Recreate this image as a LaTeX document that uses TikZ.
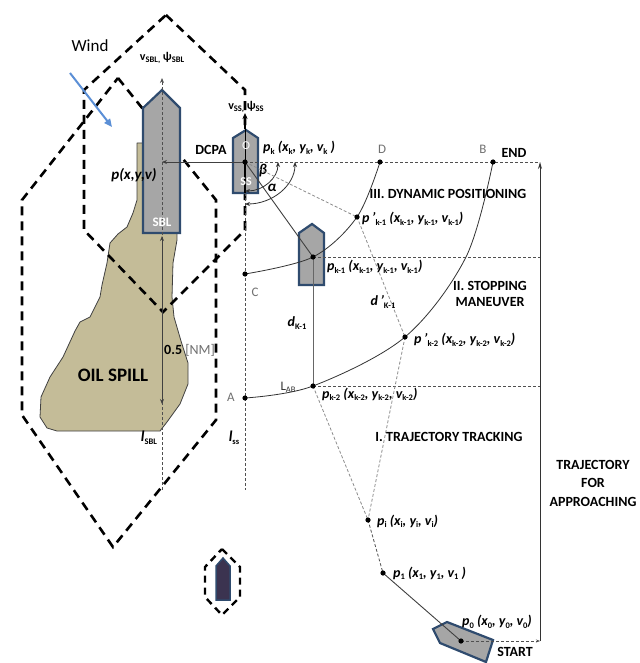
\documentclass[tikz,border=0pt]{standalone}
\usepackage{fontspec}
\setmainfont{Carlito}
\usetikzlibrary{arrows.meta,calc}

\definecolor{hull}{HTML}{A6A6A6}
\definecolor{hullline}{HTML}{2F4B6E}
\definecolor{spill}{HTML}{C4BC98}
\definecolor{windblue}{HTML}{5B8FD6}
\definecolor{darkhull}{HTML}{3B3350}
\definecolor{guide}{HTML}{505050}
\definecolor{softtext}{HTML}{707070}

% small upright subscript used in the point labels
\newcommand{\lsub}[1]{\raisebox{-0.35ex}{\fontsize{8.5}{9}\selectfont\upshape #1}}

\tikzset{
  zone/.style={draw=black, line width=2.6pt, dash pattern=on 9pt off 6pt, line join=miter},
  smallzone/.style={draw=black, line width=2.4pt, dash pattern=on 7pt off 5pt},
  guideline/.style={draw=guide, line width=0.8pt, dash pattern=on 3pt off 2pt},
  lightguide/.style={draw=black!45, line width=0.8pt, dash pattern=on 3pt off 2pt},
  track/.style={draw=black!75, line width=0.9pt},
  hullshape/.style={fill=hull, draw=hullline, line width=2.2pt, line join=miter},
  ptdot/.style={fill=black},
  ptlabel/.style={font=\bfseries\itshape\fontsize{14}{15}\selectfont, inner sep=0pt, anchor=west},
  phase/.style={font=\bfseries\fontsize{14}{16.5}\selectfont, inner sep=0pt, align=center},
  letter/.style={font=\fontsize{13}{14}\selectfont, text=softtext, inner sep=0pt},
  >={Stealth[length=5pt,width=4pt]}
}

\begin{document}
\begin{tikzpicture}[x=1pt,y=-1pt]
\useasboundingbox (0,0) rectangle (639,663);
\fill[white] (0,0) rectangle (639,663);

% ---- key points of the approach ----
\coordinate (pk)   at (245,162);
\coordinate (D)    at (380,162);
\coordinate (B)    at (493,162);
\coordinate (endT) at (540,162);
\coordinate (pk1)  at (313,257);
\coordinate (pk1p) at (357,217);
\coordinate (rk1)  at (540,257);
\coordinate (pk2)  at (313,386);
\coordinate (pk2p) at (405,337);
\coordinate (rk2)  at (540,386);
\coordinate (C)    at (245,274);
\coordinate (A)    at (245,398);
\coordinate (ssend) at (245,490);
\coordinate (pi)   at (368,520);
\coordinate (p1)   at (383,573);
\coordinate (p0)   at (461,641);
\coordinate (endB) at (540,641);
\coordinate (sbltop) at (162,78);
\coordinate (sblmid) at (162,162);
\coordinate (sblbot) at (162,490);
\coordinate (sblstern) at (162,236);
\coordinate (halfnm) at (162,404);
\coordinate (sshead) at (245,113);
\coordinate (ssbow) at (245,129);
\coordinate (ssstern) at (245,193);
\coordinate (windA) at (70,73);
\coordinate (windB) at (112,127);

% ---- oil spill ----
\draw[fill=spill, draw=black!75, line width=0.8pt, line join=round]
  (137,143) -- (137,200) -- (133,213) -- (127,227) -- (118,234) -- (110,243)
  -- (107,263) -- (102,285) -- (100,297) -- (90,317) -- (80,322) -- (75,331)
  -- (63,357) -- (50,377) -- (41,397) -- (40,417) -- (47,428) -- (57,431)
  -- (160,431) -- (167,422) -- (180,404) -- (188,384) -- (188,363) -- (181,341)
  -- (174,317) -- (172,297) -- (173,263) -- (177,240) -- (176,143) -- cycle;

% ---- safety zones ----
\draw[zone] (166,15) -- (245,90) -- (245,230) -- (163,312) -- (84,230) -- (84,90) -- cycle;
\draw[zone] (118,78) -- (216,200) -- (216,420) -- (113,547) -- (22,415) -- (22,200) -- cycle;
\draw[smallzone] (222,549) -- (240,567) -- (240,597) -- (222,615) -- (205,597) -- (205,567) -- cycle;

% ---- wind ----
\draw[windblue, line width=2pt, -{Triangle[length=8pt,width=7pt]}] (windA) -- (windB);
\node[font=\fontsize{17}{19}\selectfont, inner sep=0pt] (wind) at (90,46) {Wind};

% ---- ships ----
\draw[hullshape] (143,233) -- (143,108) -- (162,90) -- (180,108) -- (180,233) -- cycle;
\draw[hullshape] (233,193) -- (233,138) -- (246,130) -- (258,138) -- (258,193) -- cycle;
\draw[hullshape] (299,285) -- (299,233) -- (312,224) -- (324,233) -- (324,285) -- cycle;
\draw[fill=darkhull, draw=hullline, line width=1.5pt] (216,600) -- (216,566) -- (223,558) -- (230,566) -- (230,600) -- cycle;
\draw[hullshape] (433,629) -- (447,622) -- (493,640) -- (486,662) -- (440,643) -- cycle;

% ---- headings ----
\draw[guideline, ->] (sblbot) -- (sbltop);
\draw[black, line width=0.8pt] (ssbow) -- (pk);
\draw[black, line width=1.8pt] (pk) -- (ssstern);
\draw[black, line width=1.8pt, dash pattern=on 5pt off 3pt, -{Stealth[length=6pt,width=5pt]}] (ssbow) -- (sshead);

\node[text=white, font=\bfseries\fontsize{13}{14}\selectfont, inner sep=0pt] (sbltxt) at (162,222) {SBL};
\node[text=white, font=\fontsize{12}{13}\selectfont, inner sep=0pt] (otxt) at (246,146) {O};
\node[text=white, font=\bfseries\fontsize{12}{13}\selectfont, inner sep=0pt] (sstxt) at (246,182) {SS};

\node[font=\bfseries\fontsize{12}{13}\selectfont, inner sep=0pt] (sblhead) at (162,58) {v\lsub{SBL,} ψ\lsub{SBL}};
\node[font=\bfseries\fontsize{12}{13}\selectfont, inner sep=0pt] (sshead lbl) at (246,107) {v\lsub{SS,} ψ\lsub{SS}};

% ---- distances at the oil spill ----
\draw[track, <->] (sblstern) -- (halfnm);
\node[inner sep=0pt, anchor=west, font=\fontsize{14}{15}\selectfont] (nm) at (164,350) {\textbf{0.5} \textcolor{softtext}{[NM]}};
\node[font=\bfseries\fontsize{19}{21}\selectfont, inner sep=0pt] (oil) at (113,375) {OIL SPILL};
\node[font=\bfseries\itshape\fontsize{15}{16}\selectfont, inner sep=0pt] (pxyv) at (134,175) {p(x,y,v)};
\node[font=\bfseries\itshape\fontsize{15}{16}\selectfont, inner sep=0pt] (lsbl) at (149,438) {l\lsub{SBL}};
\node[font=\bfseries\itshape\fontsize{15}{16}\selectfont, inner sep=0pt] (lss) at (234,438) {l\lsub{ss}};

% ---- closest point of approach ----
\draw[track, ->] (pk) -- (sblmid);
\node[font=\bfseries\fontsize{14}{15}\selectfont, inner sep=0pt] (dcpa) at (211,150) {DCPA};

% ---- guide lines ----
\draw[guideline] (pk) -- (endT);
\draw[guideline] (pk1) -- (rk1);
\draw[guideline] (pk2) -- (rk2);
\draw[guideline] (ssstern) -- (ssend);

% ---- stopping arcs ----
\draw[black!80, line width=0.8pt] plot[smooth, tension=0.55] coordinates {(C) (pk1) (pk1p) (D)};
\draw[black!80, line width=0.8pt] plot[smooth, tension=0.55] coordinates {(A) (pk2) (pk2p) (466,257) (B)};

% ---- angles at p_k ----
\draw[black!80, line width=0.8pt, <->] ([yshift=-29pt]pk) arc[start angle=270, end angle=360, x radius=33pt, y radius=29pt];
\draw[black!80, line width=0.8pt, <->] ([yshift=-42pt]pk) arc[start angle=270, end angle=360, x radius=50pt, y radius=42pt];
\node[font=\bfseries\itshape\fontsize{15}{16}\selectfont, inner sep=0pt] (beta) at (263,171) {β};
\node[font=\bfseries\itshape\fontsize{15}{16}\selectfont, inner sep=0pt] (alpha) at (272,188) {α};

% ---- tracks ----
\draw[track] (pk) -- (pk1);
\draw[black!60, line width=1pt] (pk1) -- (pk2);
\draw[lightguide] (pk) -- (pk1p);
\draw[lightguide] (pk1p) -- (pk2p);
\draw[lightguide] (pk2) -- (pi);
\draw[lightguide] (pk2p) -- (pi);
\draw[guideline] (pi) -- (p1);
\draw[track] (p1) -- (p0);
\draw[guideline, -{Stealth[length=4pt,width=3pt]}] (p0) -- (endB);
\draw[black!80, line width=0.9pt, -{Stealth[length=7pt,width=4pt]}] (endB) -- (endT);

% ---- points ----
\foreach \p in {pk,D,B,pk1,pk1p,pk2,pk2p,C,A,pi,p1,p0}
  \fill[ptdot] (\p) circle[radius=2.6pt];

% ---- point labels ----
\node[ptlabel] (lpk) at (263,148) {p\lsub{k} (x\lsub{k}, y\lsub{k}, v\lsub{k} )};
\node[ptlabel] (lpk1p) at (362,219) {p\,\textquoteright\lsub{k-1} (x\lsub{k-1}, y\lsub{k-1}, v\lsub{k-1})};
\node[ptlabel] (lpk1) at (327,267) {p\lsub{k-1} (x\lsub{k-1}, y\lsub{k-1}, v\lsub{k-1})};
\node[ptlabel] (lpk2p) at (414,340) {p\,\textquoteright\lsub{k-2} (x\lsub{k-2}, y\lsub{k-2}, v\lsub{k-2})};
\node[ptlabel] (lpk2) at (322,394) {p\lsub{k-2} (x\lsub{k-2}, y\lsub{k-2}, v\lsub{k-2})};
\node[ptlabel] (lpi) at (377,521) {p\lsub{i} (x\lsub{i}, y\lsub{i}, v\lsub{i})};
\node[ptlabel] (lp1) at (393,573) {p\lsub{1} (x\lsub{1}, y\lsub{1}, v\lsub{1} )};
\node[ptlabel] (lp0) at (462,622) {p\lsub{0} (x\lsub{0}, y\lsub{0}, v\lsub{0})};
\node[ptlabel, anchor=center] (ldk) at (297,323) {d\lsub{K-1}};
\node[ptlabel, anchor=center] (ldkp) at (383,302) {d\,\textquoteright\lsub{K-1}};

\node[letter] (lD) at (382,149) {D};
\node[letter] (lB) at (483,149) {B};
\node[letter] (lC) at (255,292) {C};
\node[letter] (lA) at (231,397) {A};
\node[letter, text=black!80] (lLab) at (288,387) {L\lsub{AB}};

% ---- phase labels ----
\node[phase] (endlbl) at (514,153) {END};
\node[phase] (ph3) at (448,194) {III. DYNAMIC POSITIONING};
\node[phase] (ph2) at (490,294) {II. STOPPING\\MANEUVER};
\node[phase] (ph1) at (449,437) {I. TRAJECTORY TRACKING};
\node[phase, font=\bfseries\fontsize{14}{18.5}\selectfont] (appr) at (593,483) {TRAJECTORY\\FOR\\APPROACHING};
\node[phase] (start) at (515,652) {START};
\end{tikzpicture}
\end{document}
